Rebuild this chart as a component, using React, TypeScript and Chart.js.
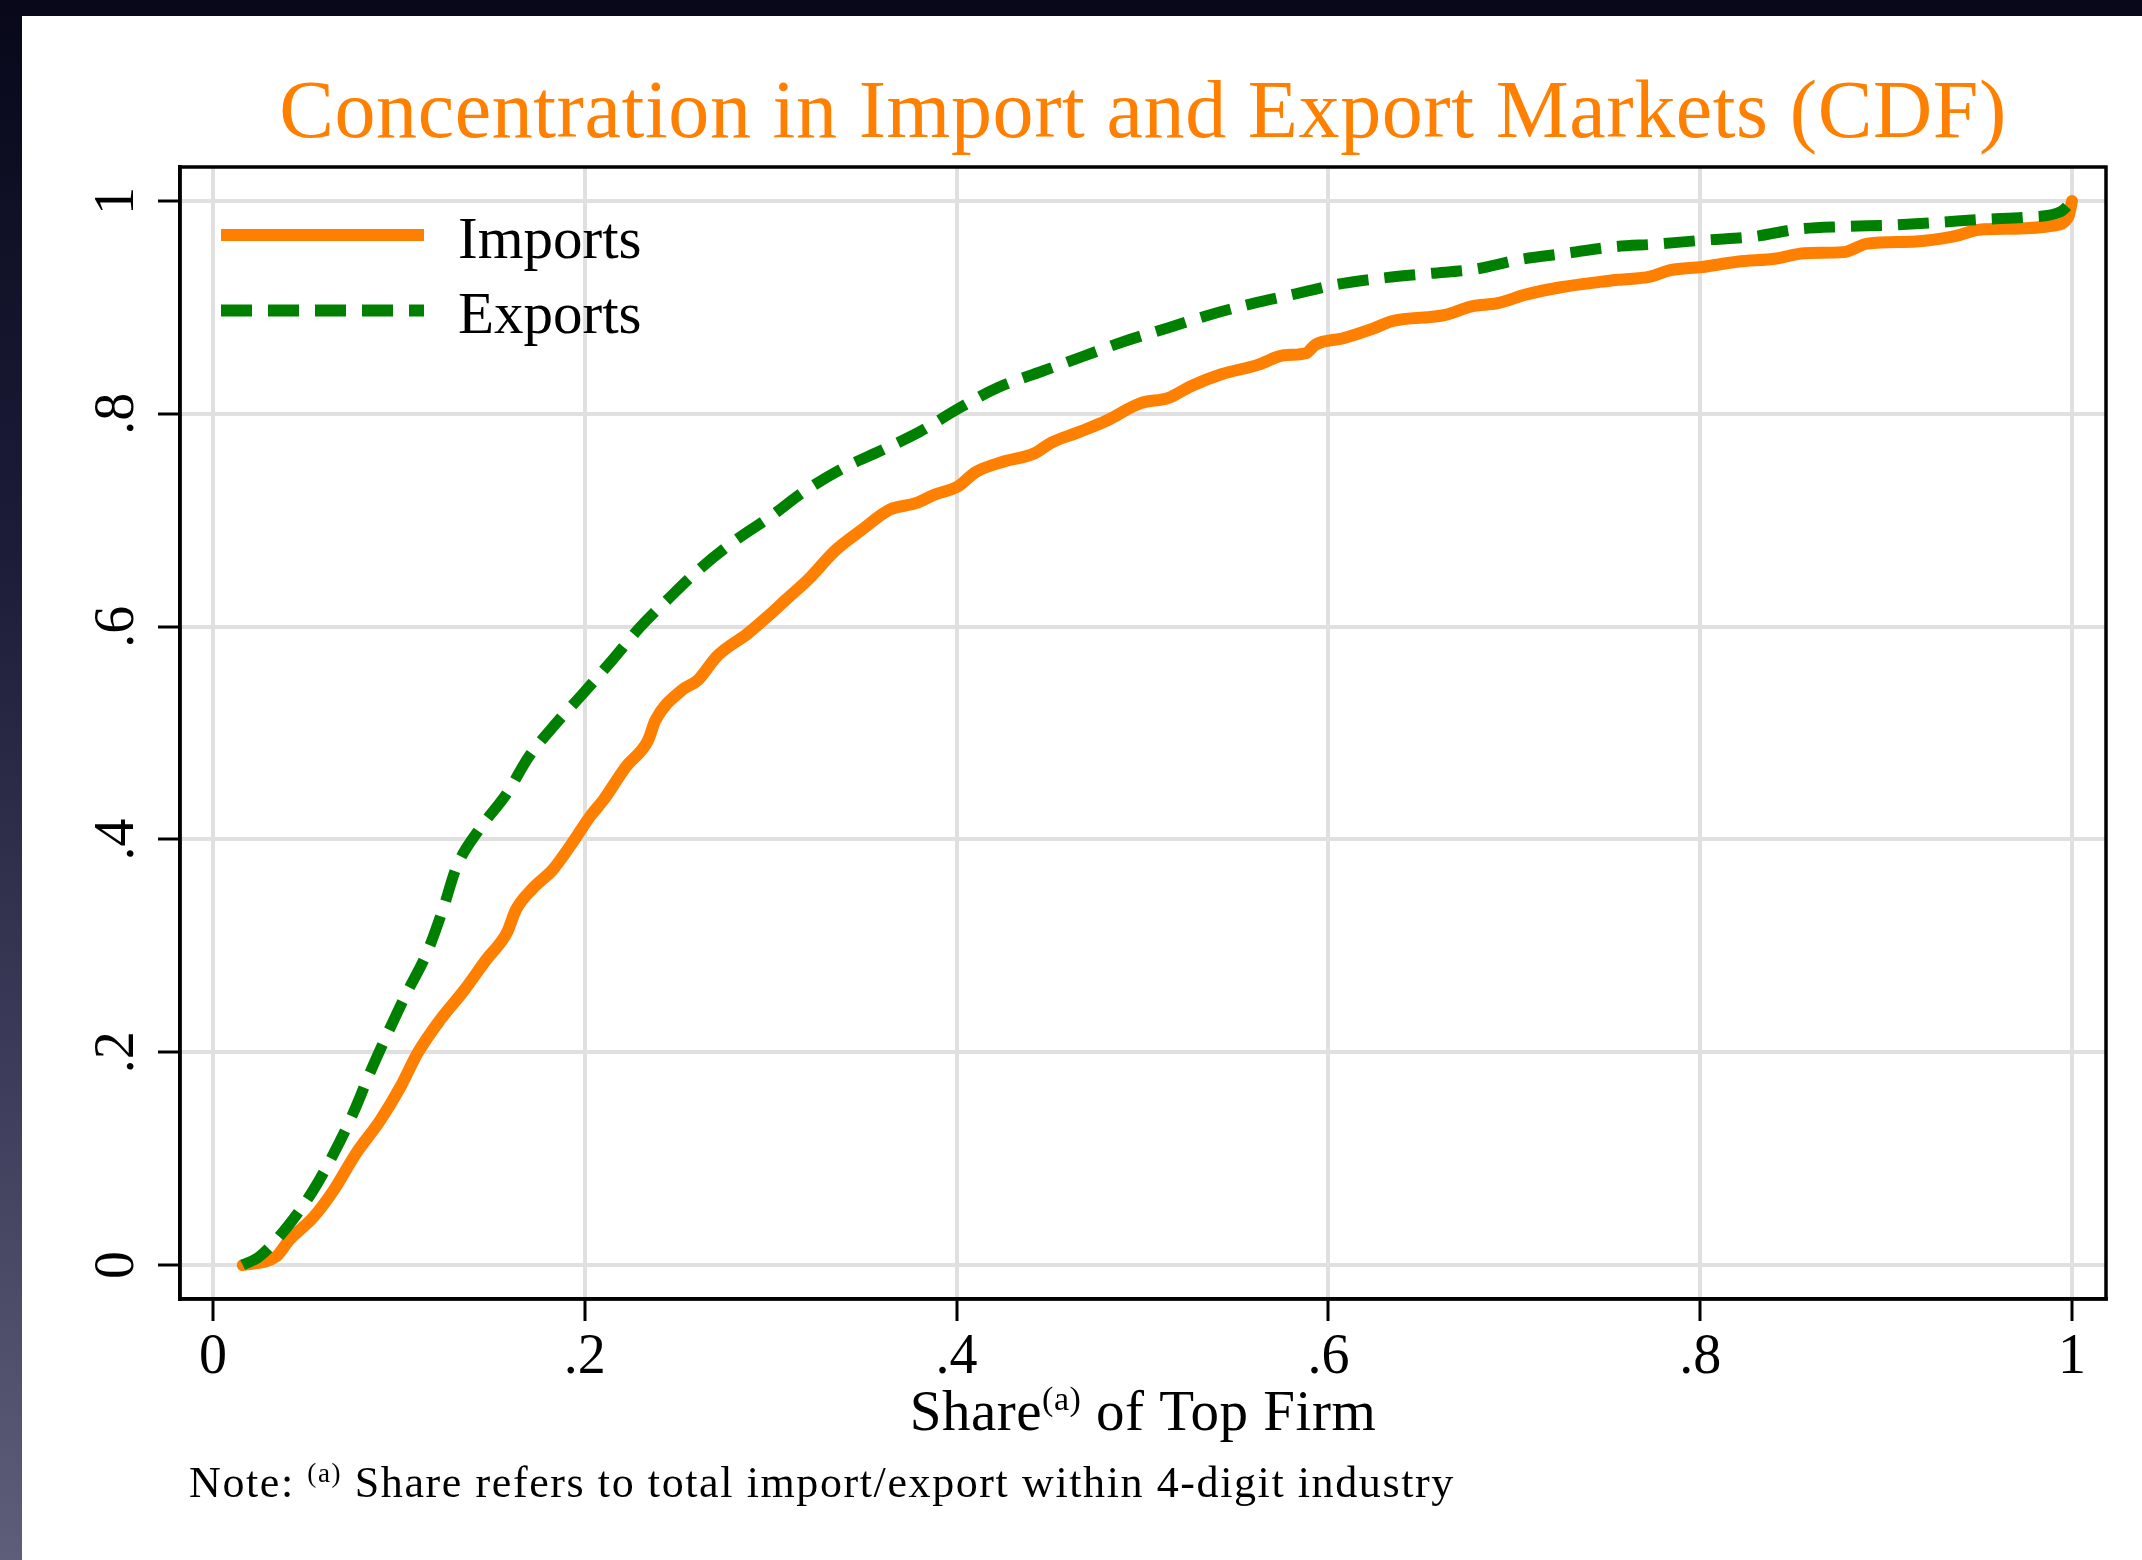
import React, { useEffect, useRef } from 'react';
import { Chart, registerables } from 'chart.js';

Chart.register(...registerables);

// Empirical CDF of the top firm's share: [share, cumulative fraction]
const importsPoints: [number, number][] = [
  [0.016, 0], [0.034, 0.008], [0.041, 0.0235], [0.054, 0.045], [0.065, 0.0705],
  [0.077, 0.105], [0.09, 0.136], [0.101, 0.168], [0.11, 0.199], [0.122, 0.23],
  [0.135, 0.258], [0.147, 0.287], [0.158, 0.312], [0.163, 0.334], [0.172, 0.354],
  [0.183, 0.372], [0.193, 0.396], [0.203, 0.422], [0.21, 0.437], [0.222, 0.468],
  [0.234, 0.493], [0.238, 0.512], [0.252, 0.54], [0.261, 0.55], [0.271, 0.572],
  [0.288, 0.594], [0.298, 0.609], [0.308, 0.625], [0.32, 0.644], [0.335, 0.672],
  [0.349, 0.691], [0.364, 0.71], [0.378, 0.716], [0.388, 0.724], [0.401, 0.732],
  [0.41, 0.745], [0.425, 0.755], [0.442, 0.763], [0.451, 0.773], [0.466, 0.783],
  [0.48, 0.793], [0.499, 0.81], [0.514, 0.815], [0.526, 0.826], [0.542, 0.837],
  [0.562, 0.846], [0.576, 0.855], [0.588, 0.857], [0.593, 0.865], [0.608, 0.871],
  [0.624, 0.88], [0.634, 0.887], [0.663, 0.893], [0.677, 0.901], [0.691, 0.904],
  [0.706, 0.912], [0.725, 0.919], [0.746, 0.924], [0.756, 0.926], [0.773, 0.929],
  [0.784, 0.935], [0.801, 0.938], [0.82, 0.943], [0.841, 0.946], [0.856, 0.951],
  [0.877, 0.952], [0.89, 0.96], [0.916, 0.962], [0.937, 0.967], [0.95, 0.973],
  [0.969, 0.974], [0.99, 0.977], [0.998, 0.985], [1.0, 1.0],
];

const exportsPoints: [number, number][] = [
  [0.016, 0], [0.025, 0.008], [0.04, 0.036], [0.054, 0.0705], [0.065, 0.105],
  [0.0755, 0.143], [0.085, 0.183], [0.094, 0.218], [0.104, 0.255], [0.115, 0.293],
  [0.124, 0.336], [0.131, 0.374], [0.143, 0.409], [0.158, 0.443], [0.17, 0.478],
  [0.1845, 0.509], [0.199, 0.537], [0.215, 0.569], [0.23, 0.6], [0.246, 0.628],
  [0.263, 0.656], [0.281, 0.681], [0.3, 0.7035], [0.318, 0.727], [0.339, 0.749],
  [0.36, 0.766], [0.38, 0.783], [0.401, 0.805], [0.422, 0.8245], [0.446, 0.84],
  [0.468, 0.854], [0.49, 0.868], [0.514, 0.881], [0.535, 0.8925], [0.559, 0.9036],
  [0.583, 0.913], [0.607, 0.9224], [0.631, 0.928], [0.655, 0.932], [0.679, 0.936],
  [0.703, 0.945], [0.7285, 0.951], [0.753, 0.957], [0.777, 0.9596], [0.803, 0.9634],
  [0.8285, 0.9665], [0.852, 0.9735], [0.877, 0.976], [0.903, 0.9774], [0.926, 0.9797],
  [0.952, 0.9828], [0.977, 0.985], [0.994, 0.99], [1.0, 1.0],
];

const seriesNames = ['Imports', 'Exports'];
const tickValues = [0, 0.2, 0.4, 0.6, 0.8, 1];
const tickLabels = ['0', '.2', '.4', '.6', '.8', '1'];
const titleText = 'Concentration in Import and Export Markets (CDF)';
const xTitleParts = ['Share', '(a)', ' of Top Firm'];
const noteParts = ['Note: ', '(a)', ' Share refers to total import/export within 4-digit industry'];

const ORANGE = '#ff7f00';
const GREEN = '#008000';
const GRID = '#e0e0e0';
const FONT = '"Liberation Serif", "Times New Roman", serif';

const W = 2120;
const H = 1544;

// Draws "normal + superscript + normal" on one baseline.
function drawSupLine(
  ctx: CanvasRenderingContext2D,
  parts: string[],
  x: number,
  y: number,
  size: number,
  supSize: number,
  rise: number,
  center: boolean,
  spacing: number,
) {
  const c = ctx as any;
  c.letterSpacing = `${spacing}px`;
  const main = `${size}px ${FONT}`;
  const sup = `${supSize}px ${FONT}`;
  ctx.font = main;
  const w0 = ctx.measureText(parts[0]).width;
  const w2 = ctx.measureText(parts[2]).width;
  ctx.font = sup;
  const w1 = ctx.measureText(parts[1]).width;
  let cx = center ? x - (w0 + w1 + w2) / 2 : x;
  ctx.textAlign = 'left';
  ctx.textBaseline = 'alphabetic';
  ctx.font = main;
  ctx.fillText(parts[0], cx, y);
  cx += w0;
  ctx.font = sup;
  ctx.fillText(parts[1], cx, y - rise);
  cx += w1;
  ctx.font = main;
  ctx.fillText(parts[2], cx, y);
  c.letterSpacing = '0px';
}

const decorations = {
  id: 'decorations',
  beforeDatasetsDraw(chart: any) {
    const { ctx, chartArea: a } = chart;
    ctx.save();
    ctx.strokeStyle = '#000';
    ctx.lineWidth = 3.5;
    ctx.strokeRect(a.left, a.top, a.right - a.left, a.bottom - a.top);
    ctx.restore();
  },
  afterDraw(chart: any) {
    const { ctx, chartArea: a, scales } = chart;
    const cx = (a.left + a.right) / 2;
    ctx.save();
    ctx.fillStyle = ORANGE;
    ctx.font = `82px ${FONT}`;
    (ctx as any).letterSpacing = '0.6px';
    ctx.textAlign = 'center';
    ctx.textBaseline = 'alphabetic';
    ctx.fillText(titleText, cx, 121);
    (ctx as any).letterSpacing = '0px';

    // rotated y tick labels
    ctx.fillStyle = '#000';
    ctx.font = `56px ${FONT}`;
    tickValues.forEach((v, i) => {
      const py = scales.y.getPixelForValue(v);
      ctx.save();
      ctx.translate(111, py);
      ctx.rotate(-Math.PI / 2);
      ctx.textAlign = 'center';
      ctx.textBaseline = 'alphabetic';
      ctx.fillText(tickLabels[i], 0, 0);
      ctx.restore();
    });

    // legend
    const lx0 = 199;
    const lx1 = 402;
    ctx.lineWidth = 12;
    ctx.lineCap = 'butt';
    ctx.strokeStyle = ORANGE;
    ctx.beginPath();
    ctx.moveTo(lx0, 219);
    ctx.lineTo(lx1, 219);
    ctx.stroke();
    ctx.strokeStyle = GREEN;
    ctx.setLineDash([31, 16]);
    ctx.beginPath();
    ctx.moveTo(lx0, 294.5);
    ctx.lineTo(lx1, 294.5);
    ctx.stroke();
    ctx.setLineDash([]);
    ctx.fillStyle = '#000';
    ctx.font = `59px ${FONT}`;
    ctx.textAlign = 'left';
    ctx.fillText(seriesNames[0], 436, 242);
    ctx.fillText(seriesNames[1], 436, 317);

    // axis title and note
    drawSupLine(ctx, xTitleParts, cx, 1414, 57, 34, 20, true, 0.5);
    drawSupLine(ctx, noteParts, 167, 1481, 44, 27, 15, false, 1.6);
    ctx.restore();
  },
};

export default function App() {
  const canvasRef = useRef<HTMLCanvasElement | null>(null);

  useEffect(() => {
    const canvas = canvasRef.current;
    if (!canvas) return;
    const chart = new Chart(canvas, {
      type: 'scatter',
      data: {
        datasets: [
          {
            label: seriesNames[0],
            data: importsPoints.map(([x, y]) => ({ x, y })),
            showLine: true,
            borderColor: ORANGE,
            backgroundColor: ORANGE,
            borderWidth: 12,
            borderCapStyle: 'round',
            borderJoinStyle: 'round',
            cubicInterpolationMode: 'monotone',
            pointRadius: 0,
            order: 2,
          },
          {
            label: seriesNames[1],
            data: exportsPoints.map(([x, y]) => ({ x, y })),
            showLine: true,
            borderColor: GREEN,
            backgroundColor: GREEN,
            borderWidth: 11,
            borderDash: [31, 16],
            borderCapStyle: 'butt',
            borderJoinStyle: 'miter',
            cubicInterpolationMode: 'monotone',
            pointRadius: 0,
            order: 1,
          },
        ],
      },
      options: {
        animation: false,
        responsive: false,
        devicePixelRatio: 1,
        layout: { padding: { left: 0, top: 151, right: 36, bottom: 0 } },
        plugins: {
          legend: { display: false },
          title: { display: false },
          tooltip: { enabled: false },
        },
        scales: {
          x: {
            type: 'linear',
            min: -0.01775,
            max: 1.01829,
            afterBuildTicks: (axis: any) => {
              axis.ticks = tickValues.map((value) => ({ value }));
            },
            afterFit: (scale: any) => {
              scale.height = 261;
            },
            ticks: {
              autoSkip: false,
              maxRotation: 0,
              minRotation: 0,
              padding: 4,
              color: '#000',
              font: { family: FONT, size: 56 },
              callback: (v: any) => tickLabels[tickValues.indexOf(Number(v))] ?? '',
            },
            grid: {
              color: GRID,
              lineWidth: 4,
              drawTicks: true,
              tickLength: 22,
              tickColor: '#000',
              tickWidth: 3,
            },
            border: { display: true, color: '#000', width: 3.5 },
          },
          y: {
            type: 'linear',
            min: -0.03195,
            max: 1.032,
            afterBuildTicks: (axis: any) => {
              axis.ticks = tickValues.map((value) => ({ value }));
            },
            afterFit: (scale: any) => {
              scale.width = 158;
            },
            ticks: { display: false },
            grid: {
              color: GRID,
              lineWidth: 4,
              drawTicks: true,
              tickLength: 22,
              tickColor: '#000',
              tickWidth: 3,
            },
            border: { display: true, color: '#000', width: 3.5 },
          },
        },
      },
      plugins: [decorations],
    } as any);
    return () => chart.destroy();
  }, []);

  return (
    <div
      style={{
        position: 'absolute',
        left: 0,
        top: 0,
        width: 2142,
        height: 1560,
        background: 'linear-gradient(to bottom, #08081a 0%, #1c1c38 35%, #3e3e5c 70%, #5e5e7a 100%)',
        overflow: 'hidden',
      }}
    >
      <div
        style={{
          position: 'absolute',
          left: 22,
          top: 16,
          width: W,
          height: H,
          background: '#ffffff',
        }}
      >
        <canvas ref={canvasRef} width={W} height={H} style={{ width: W, height: H, display: 'block' }} />
      </div>
    </div>
  );
}
